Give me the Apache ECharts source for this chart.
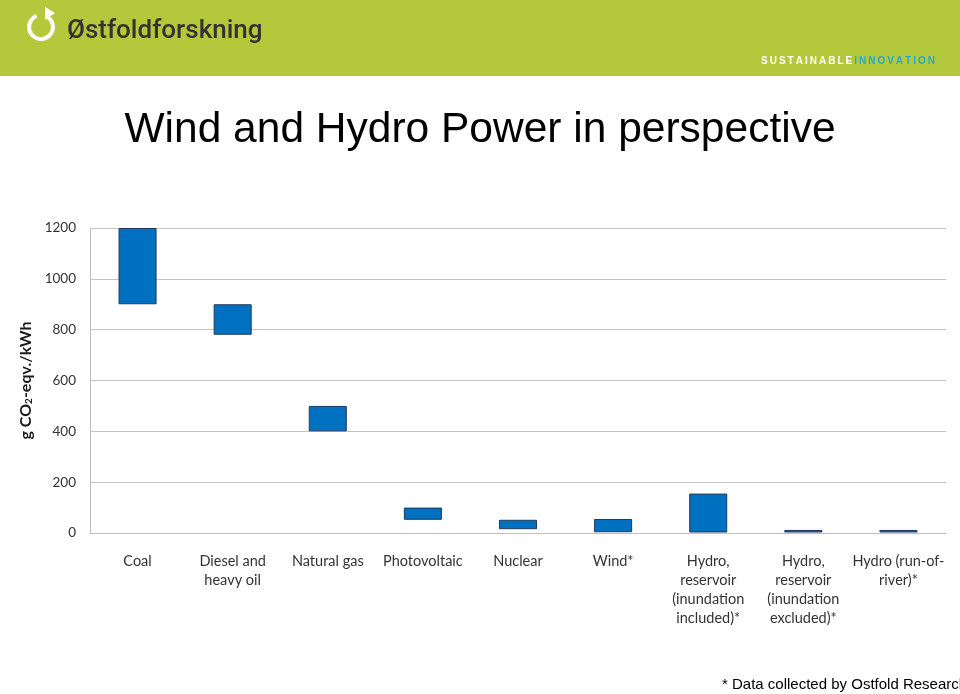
<!DOCTYPE html>
<html>
<head>
<meta charset="utf-8">
<script src="https://cdn.jsdelivr.net/npm/echarts@6/dist/echarts.min.js"></script>
<style>
html,body{margin:0;padding:0;background:#fff;}
#chart{width:960px;height:694px;}
</style>
</head>
<body>
<div id="chart"></div>
<script>
const categories = ['Coal','Diesel and\nheavy oil','Natural gas','Photovoltaic','Nuclear','Wind*','Hydro,\nreservoir\n(inundation\nincluded)*','Hydro,\nreservoir\n(inundation\nexcluded)*','Hydro (run-of-\nriver)*'];
const lowValues  = [900, 780, 400, 52, 15, 3, 2, 2, 2];
const highValues = [1200, 900, 500, 100, 52, 55, 155, 12, 12];
const yTicks = [0, 200, 400, 600, 800, 1000, 1200];

const rangeValues = highValues.map((h, i) => h - lowValues[i]);

const chart = echarts.init(document.getElementById('chart'));

// letter-spaced tagline, fitted between x=761 and x=935
const tagline = 'SUSTAINABLEINNOVATION';
const tagFont = 'bold 10px "Liberation Sans", Arial, sans-serif';
const mctx = document.createElement('canvas').getContext('2d');
mctx.font = tagFont;
const widths = tagline.split('').map(ch => mctx.measureText(ch).width);
const totalW = widths.reduce((a, b) => a + b, 0);
const spacing = (174 - totalW) / (tagline.length - 1);
let tx = 761;
const taglineEls = tagline.split('').map((ch, i) => {
  const el = {
    type: 'text', x: tx, y: 61,
    style: { text: ch, fill: i < 11 ? '#ffffff' : '#29a9c9', font: tagFont, align: 'left', verticalAlign: 'middle' }
  };
  tx += widths[i] + spacing;
  return el;
});

chart.setOption({
  animation: false,
  backgroundColor: '#ffffff',
  grid: { left: 90, right: 14, top: 228, bottom: 161 },
  xAxis: {
    type: 'category',
    data: categories,
    axisLine: { lineStyle: { color: '#bfbfbf', width: 1 } },
    axisTick: { show: false },
    axisLabel: {
      interval: 0, margin: 19, color: '#333333',
      fontFamily: 'Lato, sans-serif', fontSize: 14.5, lineHeight: 19
    }
  },
  yAxis: {
    type: 'value', min: 0, max: 1200, interval: 200,
    axisLine: { show: true, lineStyle: { color: '#bfbfbf', width: 1 } },
    axisTick: { show: false },
    splitLine: { lineStyle: { color: '#c4c4c4', width: 1 } },
    axisLabel: {
      margin: 14, color: '#333333', fontFamily: 'Lato, sans-serif', fontSize: 13.5,
      formatter: v => yTicks.includes(v) ? String(v) : ''
    },
    name: 'g CO{sub|2}-eqv./kWh',
    nameLocation: 'middle', nameRotate: 90, nameGap: 52,
    nameTextStyle: {
      color: '#1a1a1a', fontFamily: 'Lato, sans-serif', fontSize: 16, fontWeight: 'bold',
      rich: { sub: { fontFamily: 'Lato, sans-serif', fontSize: 10, fontWeight: 'bold', color: '#1a1a1a', verticalAlign: 'bottom', padding: [6, 0, 0, 0] } }
    }
  },
  series: [
    {
      type: 'bar', stack: 'range', data: lowValues, barWidth: '40%', silent: true,
      itemStyle: { color: 'transparent' }
    },
    {
      type: 'bar', stack: 'range', data: rangeValues, barWidth: '40%',
      itemStyle: { color: '#0070c0', borderColor: '#1f3a5f', borderWidth: 1 }
    }
  ],
  graphic: [
    { type: 'rect', shape: { x: 0, y: 0, width: 960, height: 76 }, style: { fill: '#b4c83b' }, z: -1 },
    { type: 'arc', shape: { cx: 41, cy: 27, r: 12, startAngle: -Math.PI * 0.32, endAngle: -Math.PI * 0.62, clockwise: true },
      style: { stroke: '#ffffff', lineWidth: 4, fill: null } },
    { type: 'polygon', shape: { points: [[45, 7], [55, 13], [45, 20]] }, style: { fill: '#ffffff' } },
    { type: 'text', x: 67, y: 31, style: { text: 'Østfoldforskning', fill: '#333333', font: '500 26px Roboto, sans-serif', verticalAlign: 'middle' } },
    ...taglineEls,
    { type: 'text', x: 480, y: 130, style: { text: 'Wind and Hydro Power in perspective', fill: '#000000', font: '42.5px "Liberation Sans", Arial, sans-serif', align: 'center', verticalAlign: 'middle' } },
    { type: 'text', x: 722, y: 685, style: { text: '* Data collected by Ostfold Research', fill: '#000000', font: '15px "Liberation Sans", Arial, sans-serif', verticalAlign: 'middle' } }
  ]
});
</script>
</body>
</html>
